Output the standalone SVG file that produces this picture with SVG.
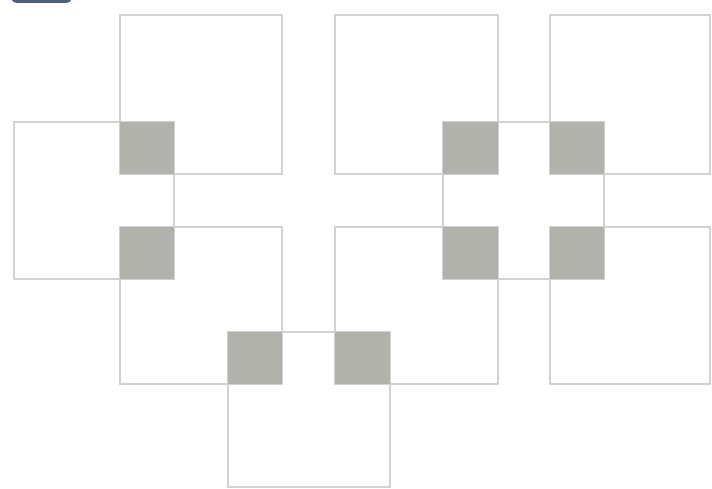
<svg xmlns="http://www.w3.org/2000/svg" width="712" height="489" viewBox="0 0 712 489">
<style>
.sq{fill:none;stroke:#d2d2d2;stroke-width:2}
.ov{fill:#b1b2ac;stroke:none}
</style>
<rect x="0" y="0" width="712" height="489" fill="#ffffff"/>
<rect x="11" y="-12" width="61" height="15" rx="6" fill="#4f5d82"/>
<g id="squares">
<rect id="s1" class="sq" x="120" y="15" width="162" height="159"/>
<rect id="s2" class="sq" x="14" y="122" width="160" height="157"/>
<rect id="s3" class="sq" x="335" y="15" width="163" height="159"/>
<rect id="s4" class="sq" x="550" y="15" width="160" height="159"/>
<rect id="s5" class="sq" x="443" y="122" width="161" height="157"/>
<rect id="s6" class="sq" x="120" y="227" width="162" height="157"/>
<rect id="s7" class="sq" x="335" y="227" width="163" height="157"/>
<rect id="s8" class="sq" x="550" y="227" width="160" height="157"/>
<rect id="s9" class="sq" x="228" y="332" width="162" height="155"/>
</g>
<g id="overlaps">
<rect class="ov" x="120" y="122" width="54" height="52"/>
<rect class="ov" x="120" y="227" width="54" height="52"/>
<rect class="ov" x="443" y="122" width="55" height="52"/>
<rect class="ov" x="550" y="122" width="54" height="52"/>
<rect class="ov" x="443" y="227" width="55" height="52"/>
<rect class="ov" x="550" y="227" width="54" height="52"/>
<rect class="ov" x="228" y="332" width="54" height="52"/>
<rect class="ov" x="335" y="332" width="55" height="52"/>
</g>
</svg>
